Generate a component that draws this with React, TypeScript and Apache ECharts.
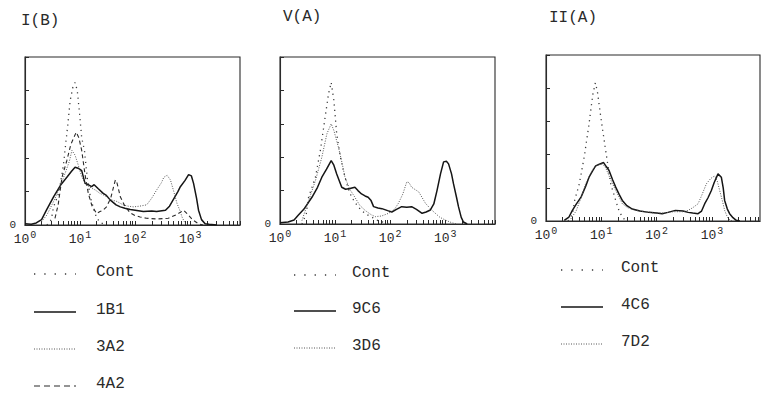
import React, { useEffect, useRef } from "react";
import * as echarts from "echarts";

// ---------- data (fluorescence intensity, cell count) ----------
const titles = ["I(B)", "V(A)", "II(A)"];
const decadeLabels = [1, 10, 100, 1000];

// Panel I(B)
const p1Cont = [[2.5,0],[3.0,8],[3.3,27],[4.0,45],[4.4,62],[5.0,90],[5.4,116],[6.0,150],[6.6,185],[7.4,205],[8.1,212],[8.9,200],[9.8,165],[10.7,130],[12.0,111],[13.5,70],[15.5,40],[18,22],[20,10],[24,3],[30,0]];
const p1_1B1 = [[1,2],[1.3,1],[1.6,3],[2.0,8],[2.45,22],[3.3,42],[4.4,59],[5.75,71],[7.0,80],[8.1,86],[9.5,84],[10.7,81],[12.3,62],[14,60],[16.2,57],[18,60],[21.4,54],[26.3,47],[30,44],[35.5,37],[45,30],[53.7,27],[65,25],[81.3,23],[100,22],[141,20],[200,21],[245,20],[355,22],[420,28],[501,39],[600,50],[661,57],[800,66],[933,75],[1050,73],[1148,62],[1300,40],[1413,22],[1600,8],[1862,2],[2200,1],[3000,0]];
const p1_3A2 = [[2.0,5],[2.5,15],[3.3,35],[4.4,58],[5.4,78],[6.4,95],[7.1,111],[8.1,104],[9.2,90],[10.7,72],[12.3,62],[14,58],[16,55],[19,52],[22.9,47],[28,44],[35,38],[46.8,35],[60,30],[75,28],[93.3,27],[120,28],[162,30],[200,40],[245,52],[300,63],[331,71],[380,74],[437,67],[501,50],[575,32],[661,20],[708,12],[813,2],[900,0]];
const p1_4A2 = [[3.5,10],[4.0,30],[4.7,71],[5.75,96],[6.8,120],[8.5,138],[9.5,130],[10.7,111],[12.3,75],[14.1,47],[16.5,28],[20,17],[23,20],[26,22],[30.2,27],[36,40],[40,55],[43.7,67],[47,62],[53.7,42],[65,28],[81.3,18],[100,14],[123,12],[160,10],[250,9],[400,10],[550,15],[759,22],[900,16],[1100,8],[1400,2],[1700,0]];

// Panel V(A)
const p2Cont = [[2.5,0],[3.0,15],[3.3,40],[4.4,70],[5.4,110],[6.6,160],[7.6,195],[8.5,212],[9.5,185],[10.7,135],[12.5,100],[14.1,80],[17,55],[20,40],[25,28],[30.2,20],[38,14],[46.8,10],[60,5],[80,2],[100,0]];
const p2_9C6 = [[1,2],[1.4,3],[1.8,6],[2.14,13],[2.7,22],[3.8,40],[4.8,55],[5.75,70],[7,82],[8.5,95],[9.5,88],[10.7,75],[13.2,55],[15.5,52],[18.6,53],[22.9,55],[26,50],[30.2,45],[35,42],[39.8,40],[45,35],[50,26],[60,24],[70.8,23],[90,20],[107,18],[130,22],[162,26],[200,25],[245,26],[300,22],[380,16],[450,18],[537,21],[620,30],[708,50],[820,75],[933,93],[1050,94],[1148,90],[1300,75],[1413,60],[1600,40],[1738,26],[1950,10],[2138,3],[2500,0]];
const p2_3D6 = [[2.5,5],[3.3,35],[4.4,65],[5.75,100],[7.1,135],[8.5,150],[9.5,140],[11.5,115],[13.5,90],[15.1,70],[18.5,52],[22.9,40],[28,28],[35.5,20],[45,14],[53.7,11],[70,12],[93.3,16],[120,22],[141,31],[170,45],[200,63],[220,62],[245,55],[331,48],[437,31],[550,22],[661,16],[800,10],[1000,6],[1300,2],[1600,0]];

// Panel II(A)
const p3Cont = [[2.5,0],[3.0,10],[3.3,31],[4.0,56],[4.9,96],[6.0,146],[7.0,190],[7.8,208],[8.5,195],[9.8,156],[12,106],[14.8,56],[18.2,31],[21,15],[24,6],[28,0]];
const p3_4C6 = [[2.14,1],[2.6,6],[3.0,16],[3.5,25],[4.3,36],[5.2,52],[6.0,66],[7.0,76],[7.9,83],[9.0,85],[11,88],[12.3,82],[13.8,76],[16,62],[18.2,51],[21,40],[24,31],[29,23],[36.3,18],[50,15],[72.4,13],[100,12],[126,11],[160,13],[219,16],[300,15],[372,13],[450,12],[562,11],[650,15],[741,26],[850,35],[977,46],[1100,58],[1288,71],[1479,66],[1600,50],[1698,31],[1900,18],[2089,11],[2400,5],[2754,1],[3200,0]];
const p3_7D2 = [[2.8,3],[3.5,15],[4.3,35],[5.2,56],[6.3,70],[7.4,81],[9.0,85],[10.5,86],[12,80],[13.8,68],[16,56],[18.2,46],[21,36],[24,26],[30,20],[41.7,16],[60,14],[90,12],[130,12],[200,14],[300,14],[372,16],[450,20],[562,26],[650,38],[794,56],[950,64],[1122,68],[1250,60],[1380,46],[1550,30],[1698,16],[1900,6],[2138,1],[2400,0]];

const FONT = '"Liberation Mono", "DejaVu Sans Mono", monospace';
const INK = "#2a2a2a";

const STYLES: Record<string, any> = {
  cont: { color: "#3a3a3a", width: 1.3, type: [1.2, 4.2] },
  solid: { color: "#151515", width: 1.5, type: "solid" },
  fine: { color: "#555555", width: 1, type: [1, 1.5] },
  dash: { color: "#2a2a2a", width: 1.1, type: [4, 3] },
};

const panels = [
  {
    title: titles[0], titleX: 21, titleY: 23,
    grid: { left: 25, top: 57, width: 215, height: 168 }, xMax: 8000,
    legendX: 34, legendText: 96, legendY: [274, 312, 349, 386],
    series: [
      { name: "Cont", data: p1Cont, style: "cont" },
      { name: "1B1", data: p1_1B1, style: "solid" },
      { name: "3A2", data: p1_3A2, style: "fine" },
      { name: "4A2", data: p1_4A2, style: "dash" },
    ],
  },
  {
    title: titles[1], titleX: 283, titleY: 19,
    grid: { left: 280, top: 57, width: 215, height: 167 }, xMax: 8000,
    legendX: 294, legendText: 352, legendY: [275, 311, 348],
    series: [
      { name: "Cont", data: p2Cont, style: "cont" },
      { name: "9C6", data: p2_9C6, style: "solid" },
      { name: "3D6", data: p2_3D6, style: "fine" },
    ],
  },
  {
    title: titles[2], titleX: 549, titleY: 20,
    grid: { left: 546, top: 55, width: 214, height: 166 }, xMax: 7400,
    legendX: 561, legendText: 621, legendY: [270, 307, 344],
    series: [
      { name: "Cont", data: p3Cont, style: "cont" },
      { name: "4C6", data: p3_4C6, style: "solid" },
      { name: "7D2", data: p3_7D2, style: "fine" },
    ],
  },
];

function tickValues(max: number) {
  const out: number[] = [];
  for (let d = 1; d <= 1000; d *= 10) {
    for (let k = 1; k <= 9; k++) {
      const v = k * d;
      if (v <= max) out.push(v);
    }
  }
  return out;
}

export default function App() {
  const ref = useRef<HTMLDivElement>(null);
  useEffect(() => {
    if (!ref.current) return;
    const chart = echarts.init(ref.current, null, { renderer: "svg" });
    const grid: any[] = [];
    const xAxis: any[] = [];
    const yAxis: any[] = [];
    const series: any[] = [];
    const graphic: any[] = [];
    panels.forEach((p, i) => {
      grid.push({ ...p.grid, show: true, borderColor: INK, borderWidth: 1.1, backgroundColor: "transparent" });
      xAxis.push({
        type: "log", logBase: 10, gridIndex: i, min: 1, max: p.xMax,
        axisLine: { show: true, lineStyle: { color: INK, width: 1.1 } },
        axisTick: { show: true, inside: true, length: 4, customValues: tickValues(p.xMax), lineStyle: { color: INK } },
        minorTick: { show: false },
        splitLine: { show: false },
        axisLabel: {
          customValues: decadeLabels,
          margin: 5,
          formatter: (v: number) => `{b|10}{s|${Math.round(Math.log10(v))}}`,
          rich: {
            b: { fontFamily: FONT, fontSize: 13, color: INK },
            s: { fontFamily: FONT, fontSize: 10, color: INK, padding: [0, 0, 8, 1] },
          },
        },
      });
      yAxis.push({
        type: "value", gridIndex: i, min: 0, max: 250, interval: 50,
        axisLine: { show: true, lineStyle: { color: INK, width: 1.1 } },
        axisTick: { show: true, inside: true, length: 4, lineStyle: { color: INK } },
        splitLine: { show: false },
        axisLabel: {
          margin: 9, fontFamily: FONT, fontSize: 11, color: INK,
          formatter: (v: number) => (v === 0 ? "0" : ""),
        },
      });
      p.series.forEach((s) => {
        const st = STYLES[s.style];
        series.push({
          type: "line", name: s.name, xAxisIndex: i, yAxisIndex: i,
          data: s.data, showSymbol: false, symbol: "none", smooth: false,
          lineStyle: { color: st.color, width: st.width, type: st.type },
          silent: true,
        });
      });
      graphic.push({
        type: "text", left: p.titleX, top: p.titleY - 10,
        style: { text: p.title, font: `16px ${FONT}`, fill: INK },
      });
      p.series.forEach((s, k) => {
        const st = STYLES[s.style];
        const y = p.legendY[k];
        graphic.push({
          type: "line",
          shape: { x1: p.legendX, y1: y, x2: p.legendX + 42, y2: y },
          style: {
            stroke: st.color, lineWidth: s.style === "solid" ? 1.7 : st.width,
            lineDash: s.style === "cont" ? [1.3, 9] : s.style === "dash" ? [6, 4] : st.type === "solid" ? null : st.type,
          },
        });
        graphic.push({
          type: "text", left: p.legendText, top: y - 10,
          style: { text: s.name, font: `16px ${FONT}`, fill: INK },
        });
      });
    });
    chart.setOption({
      animation: false,
      backgroundColor: "#ffffff",
      grid, xAxis, yAxis, series, graphic,
    });
    return () => chart.dispose();
  }, []);
  return (
    <div
      ref={ref}
      style={{ position: "absolute", left: 0, top: 0, width: 761, height: 396 }}
    />
  );
}
